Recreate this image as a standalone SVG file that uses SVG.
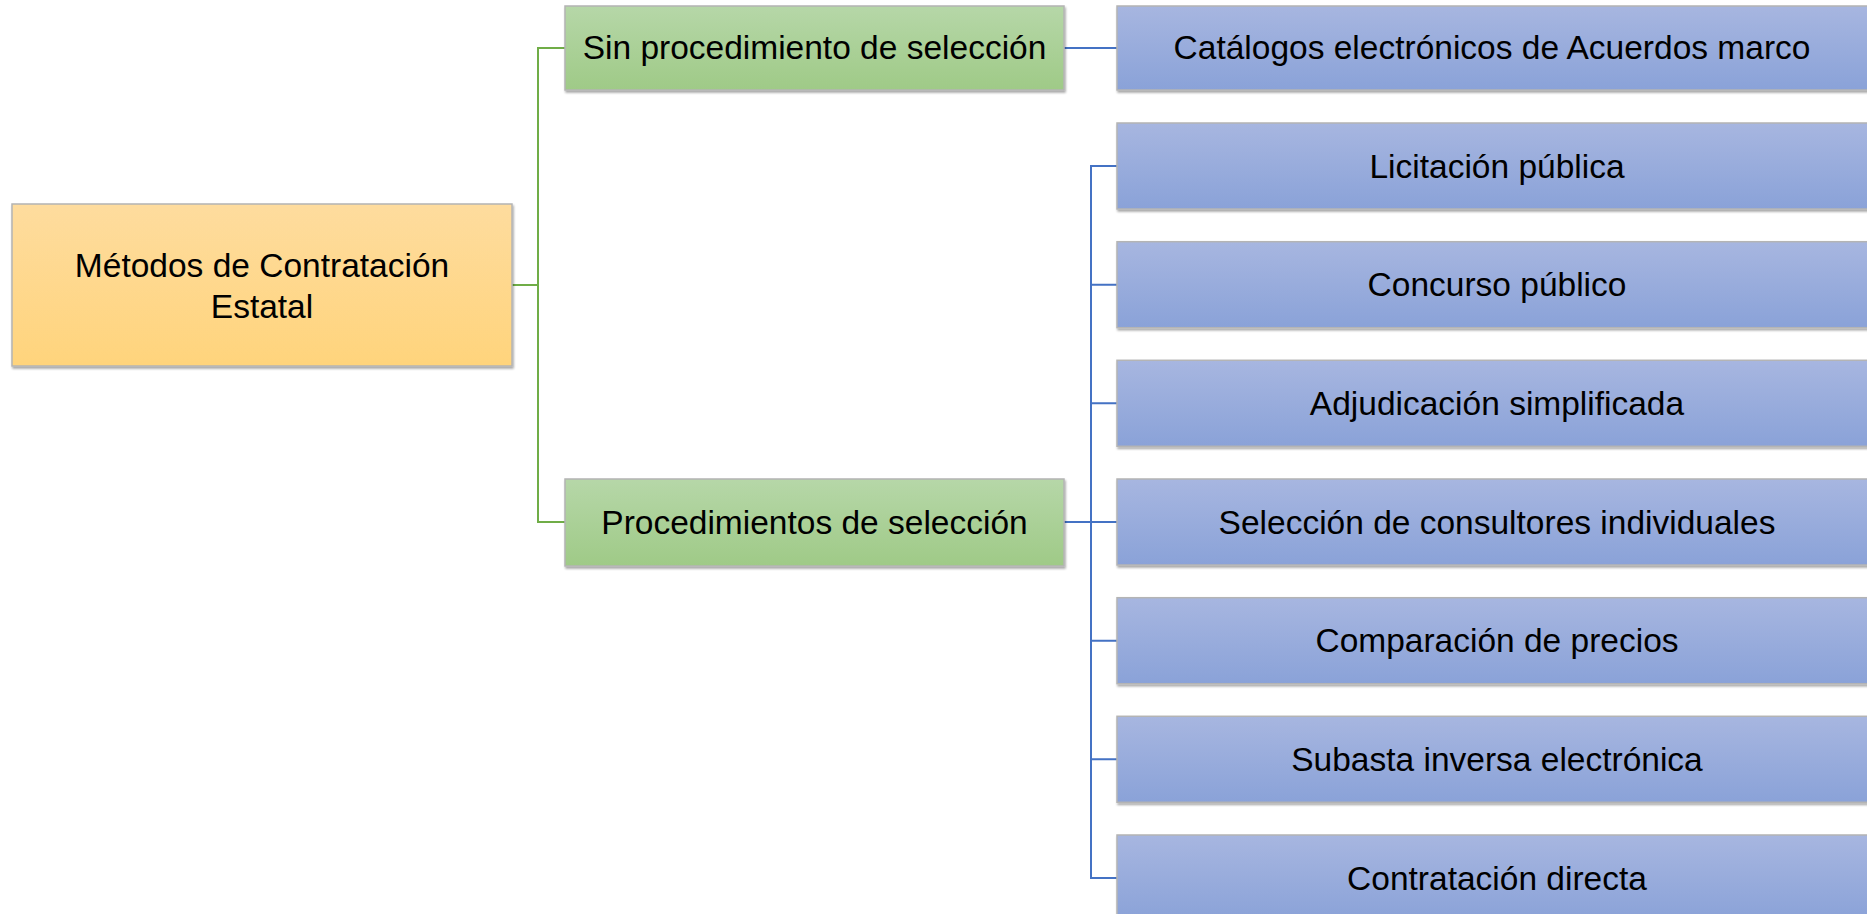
<svg xmlns="http://www.w3.org/2000/svg" width="1867" height="914" viewBox="0 0 1867 914">
<defs>
<linearGradient id="gOrange" x1="0" y1="0" x2="0" y2="1"><stop offset="0" stop-color="#FEDC9E"/><stop offset="1" stop-color="#FFD47C"/></linearGradient>
<linearGradient id="gGreen" x1="0" y1="0" x2="0" y2="1"><stop offset="0" stop-color="#B6D7A8"/><stop offset="1" stop-color="#9FCA87"/></linearGradient>
<linearGradient id="gBlue" x1="0" y1="0" x2="0" y2="1"><stop offset="0" stop-color="#A7B6E0"/><stop offset="1" stop-color="#8AA2D8"/></linearGradient>
<filter id="sh" x="-5%" y="-10%" width="110%" height="125%"><feDropShadow dx="1" dy="2" stdDeviation="1.2" flood-color="#000" flood-opacity="0.35"/></filter>
</defs>
<style>
.box{stroke:#B4B4B4;stroke-width:1.5;filter:url(#sh)}
.o{fill:url(#gOrange)}
.g{fill:url(#gGreen)}
.b{fill:url(#gBlue)}
text{font-family:"Liberation Sans",Arial,sans-serif;font-size:33.5px;fill:#000;text-anchor:middle}
.cg{fill:none;stroke:#70AD47;stroke-width:2}
.cb{fill:none;stroke:#4472C4;stroke-width:2}
</style>
<rect width="1867" height="914" fill="#fff"/>
<g id="connectors">
<path class="cg" d="M512,285 H538 M565,48 H538 V522 H565"/>
<path class="cb" d="M1064,48 H1117 M1064,522 H1091 M1117,166 H1091 V878 H1117 M1091,284.7 H1117 M1091,403.3 H1117 M1091,522 H1117 M1091,640.7 H1117 M1091,759.3 H1117"/>
</g>
<g id="root"><rect class="box o" x="12" y="204" width="500" height="162"/><text x="262" y="276.5">Métodos de Contratación</text><text x="262" y="317.5">Estatal</text></g>
<g id="sin"><rect class="box g" x="565" y="6" width="499" height="84"/><text x="814.5" y="59">Sin procedimiento de selección</text></g>
<g id="proc"><rect class="box g" x="565" y="479" width="499" height="87"/><text x="814.5" y="533.5">Procedimientos de selección</text></g>
<g id="catalogos"><rect class="box b" x="1117" y="6" width="760" height="84"/><text x="1492" y="59">Catálogos electrónicos de Acuerdos marco</text></g>
<g id="licitacion"><rect class="box b" x="1117" y="123" width="760" height="86"/><text x="1497" y="177.5">Licitación pública</text></g>
<g id="concurso"><rect class="box b" x="1117" y="241.7" width="760" height="86"/><text x="1497" y="296.2">Concurso público</text></g>
<g id="adjudicacion"><rect class="box b" x="1117" y="360.3" width="760" height="86"/><text x="1497" y="414.8">Adjudicación simplificada</text></g>
<g id="seleccion"><rect class="box b" x="1117" y="479" width="760" height="86"/><text x="1497" y="533.5">Selección de consultores individuales</text></g>
<g id="comparacion"><rect class="box b" x="1117" y="597.7" width="760" height="86"/><text x="1497" y="652.2">Comparación de precios</text></g>
<g id="subasta"><rect class="box b" x="1117" y="716.3" width="760" height="86"/><text x="1497" y="770.8">Subasta inversa electrónica</text></g>
<g id="directa"><rect class="box b" x="1117" y="835" width="760" height="86"/><text x="1497" y="889.5">Contratación directa</text></g>
</svg>
